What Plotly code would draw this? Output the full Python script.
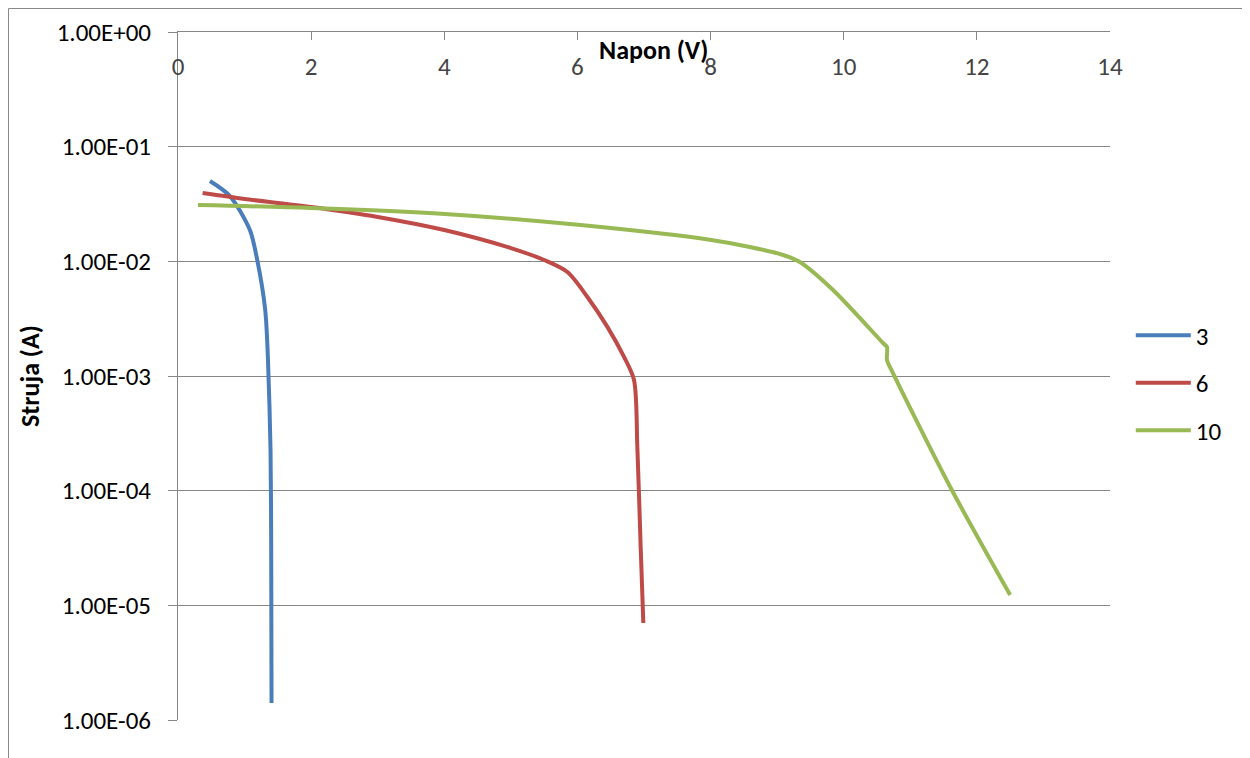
import plotly.graph_objects as go

# Series "3"
v3 = [0.48, 0.78, 1.08, 1.19, 1.31, 1.35, 1.39, 1.40, 1.405]
i3 = [0.0502, 0.0371, 0.01876, 0.01028, 0.00377, 0.001466, 2.26e-4, 3.04e-5, 1.41e-6]

# Series "6"
v6 = [0.37, 1.0, 2.0, 3.0, 4.0, 5.0, 5.5, 5.85, 6.15, 6.45, 6.7, 6.85, 6.90, 6.95, 6.99]
i6 = [0.0394, 0.0350, 0.0298, 0.0244, 0.01876, 0.01306, 0.01027, 0.00807, 0.00489,
      0.00268, 0.001466, 0.000923, 0.000240, 3.23e-5, 7.02e-6]

# Series "10"
v10 = [0.30, 2.0, 4.01, 6.01, 8.01, 8.59, 9.09, 9.34, 9.84, 10.59, 10.65, 10.65, 10.74, 11.60, 12.50]
i10 = [0.0310, 0.0292, 0.0259, 0.0208, 0.01535, 0.01334, 0.01136, 0.00987, 0.00562,
       0.00194, 0.00179, 0.00138, 0.00106, 0.0001076, 1.23e-5]

names = ["3", "6", "10"]
colors = ["#4A7EBB", "#BE4B48", "#98B954"]

y_tickvals = [1e0, 1e-1, 1e-2, 1e-3, 1e-4, 1e-5, 1e-6]
y_ticktext = ["1.00E+00", "1.00E-01", "1.00E-02", "1.00E-03", "1.00E-04", "1.00E-05", "1.00E-06"]
x_tickvals = [0, 2, 4, 6, 8, 10, 12, 14]

FONT = "Carlito, Calibri, Lato, sans-serif"
GRAY = "#868686"

fig = go.Figure()
for name, xs, ys, c in zip(names, [v3, v6, v10], [i3, i6, i10], colors):
    fig.add_trace(go.Scatter(x=xs, y=ys, mode="lines", name=name, legendgroup=name,
                             line=dict(color=c, width=4, shape="spline", smoothing=0.8)))

fig.update_layout(
    width=1242, height=750,
    margin=dict(l=170, r=140, t=24, b=38, autoexpand=False),
    paper_bgcolor="white", plot_bgcolor="white",
    font=dict(family=FONT, size=25, color="black"),
    showlegend=True,
    legend=dict(x=1.0223, y=0.49, xanchor="left", yanchor="middle",
                font=dict(family=FONT, size=25), tracegroupgap=12, itemwidth=55,
                bgcolor="rgba(0,0,0,0)"),
    xaxis=dict(range=[0, 14], tickvals=x_tickvals, side="top", automargin=False,
               showline=True, linecolor=GRAY, linewidth=1,
               ticks="inside", ticklen=8, tickcolor=GRAY,
               ticklabelposition="inside", ticklabelstandoff=19,
               ticklabeloverflow="allow",
               showgrid=False, zeroline=False,
               tickfont=dict(family=FONT, size=25)),
    yaxis=dict(type="log", range=[-6, 0], tickvals=y_tickvals, ticktext=y_ticktext,
               automargin=False,
               showline=True, linecolor=GRAY, linewidth=1,
               ticks="outside", ticklen=9, tickcolor=GRAY,
               ticklabelstandoff=12, ticklabeloverflow="allow",
               showgrid=True, gridcolor=GRAY, gridwidth=1, zeroline=False,
               tickfont=dict(family=FONT, size=25)),
    annotations=[
        dict(text="<b>Napon (V)</b>", xref="paper", yref="paper", x=0.5107, y=0.974,
             xanchor="center", yanchor="middle",
             showarrow=False, font=dict(family=FONT, size=26)),
        dict(text="<b>Struja (A)</b>", xref="paper", yref="paper", x=-0.1588, y=0.5,
             xanchor="center", yanchor="middle",
             textangle=-90, showarrow=False, font=dict(family=FONT, size=26)),
    ],
    shapes=[
        dict(type="rect", xref="paper", yref="paper", x0=-0.1819, x1=1.1449,
             y0=-0.2, y1=1.0342, line=dict(color=GRAY, width=1), layer="below"),
    ],
)

fig.write_html("out.html")
